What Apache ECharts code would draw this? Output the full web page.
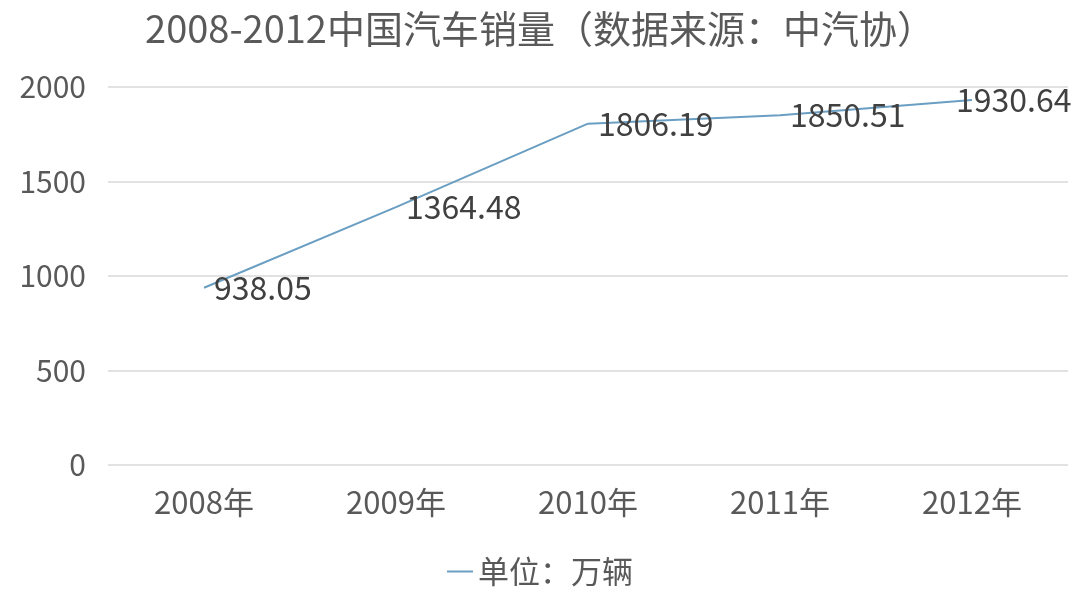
<!DOCTYPE html>
<html><head><meta charset="utf-8">
<script src="https://cdn.jsdelivr.net/npm/echarts@6/dist/echarts.min.js"></script>
<style>html,body{margin:0;padding:0;background:#fff}#c{width:1080px;height:608px}</style>
</head><body><div id="c"></div>
<script>
const titleText = '2008-2012中国汽车销量（数据来源：中汽协）';
const categories = ['2008年','2009年','2010年','2011年','2012年'];
const seriesName = '单位：万辆';
const values = [938.05, 1364.48, 1806.19, 1850.51, 1930.64];
const yTicks = [0, 500, 1000, 1500, 2000];

const font = '"Noto Sans CJK SC", "Noto Sans", sans-serif';
const seriesData = values.map((v, i) => i === values.length - 1
  ? {value: v, label: {offset: [-26, 0]}} : v);
const chart = echarts.init(document.getElementById('c'));
chart.setOption({
  backgroundColor: '#fff',
  animation: false,
  textStyle: {fontFamily: font},
  title: {text: titleText, left: 'center', top: 5,
    textStyle: {fontFamily: font, fontSize: 38, fontWeight: 'normal', color: '#595959'}},
  legend: {bottom: 16, left: 'center', itemWidth: 26, itemHeight: 2, icon: 'rect', itemGap: 10,
    textStyle: {fontFamily: font, fontSize: 31, color: '#595959'}, data: [seriesName]},
  grid: {left: 108, right: 12, top: 87, bottom: 143},
  xAxis: {type: 'category', data: categories, boundaryGap: true,
    axisLine: {show: false}, axisTick: {show: false},
    axisLabel: {fontFamily: font, fontSize: 31, color: '#595959', margin: 22}},
  yAxis: {type: 'value', min: yTicks[0], max: yTicks[yTicks.length-1], interval: 500,
    axisLine: {show: false}, axisTick: {show: false},
    splitLine: {lineStyle: {color: '#d9d9d9', width: 1.5}},
    axisLabel: {fontFamily: font, fontSize: 30, color: '#595959', margin: 22,
      formatter: v => String(v)}},
  series: [{name: seriesName, type: 'line', data: seriesData, symbol: 'circle', symbolSize: 0,
    showSymbol: true,
    lineStyle: {color: '#6a9ec2', width: 2}, itemStyle: {color: '#6a9ec2'},
    label: {show: true, position: 'right', distance: 10, fontFamily: font, fontSize: 32, color: '#404040'}}]
});
</script></body></html>
